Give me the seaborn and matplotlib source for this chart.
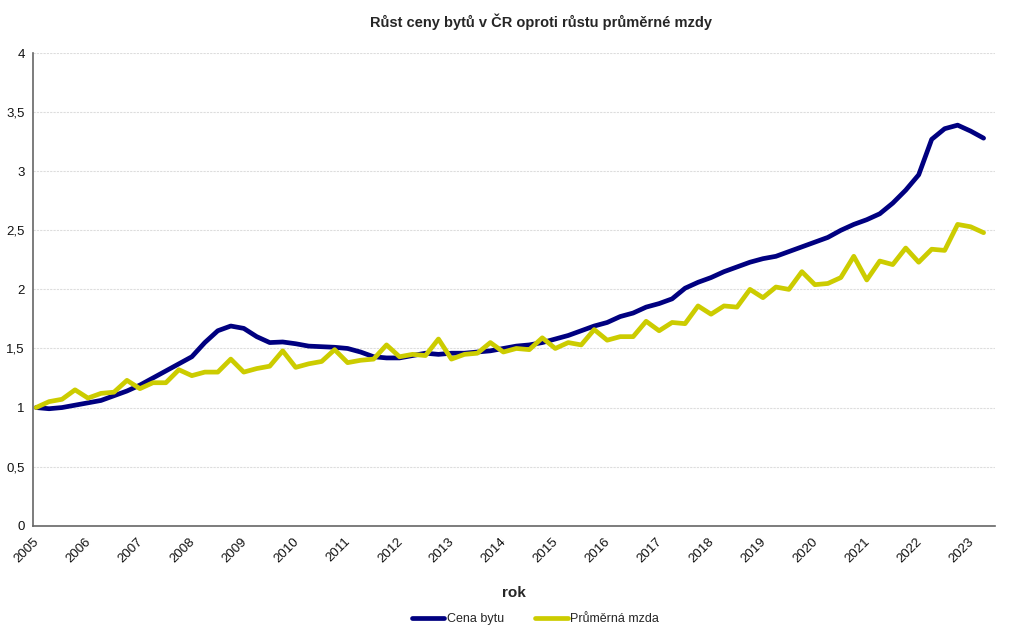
import pandas as pd
import numpy as np
import matplotlib
matplotlib.use("Agg")
import matplotlib.pyplot as plt
import seaborn as sns
from matplotlib.lines import Line2D

# quarterly index, 2005 Q1 = 1
cena_bytu = [
    1.00, 0.99, 1.00, 1.02, 1.04, 1.06, 1.10, 1.14,   # 2005-2006
    1.19, 1.25, 1.31, 1.37, 1.43, 1.55, 1.65, 1.69,   # 2007-2008
    1.67, 1.60, 1.55, 1.555, 1.54, 1.52, 1.515, 1.51,  # 2009-2010
    1.50, 1.47, 1.43, 1.42, 1.42, 1.44, 1.46, 1.45,   # 2011-2012
    1.46, 1.46, 1.47, 1.48, 1.50, 1.52, 1.53, 1.55,   # 2013-2014
    1.58, 1.61, 1.65, 1.69, 1.72, 1.77, 1.80, 1.85,   # 2015-2016
    1.88, 1.92, 2.01, 2.06, 2.10, 2.15, 2.19, 2.23,   # 2017-2018
    2.26, 2.28, 2.32, 2.36, 2.40, 2.44, 2.50, 2.55,   # 2019-2020
    2.59, 2.64, 2.73, 2.84, 2.97, 3.27, 3.36, 3.39,   # 2021-2022
    3.34, 3.28,                                       # 2023
]
prumerna_mzda = [
    1.00, 1.05, 1.07, 1.15, 1.08, 1.12, 1.13, 1.23,
    1.16, 1.21, 1.21, 1.32, 1.27, 1.30, 1.30, 1.41,
    1.30, 1.33, 1.35, 1.48, 1.34, 1.37, 1.39, 1.49,
    1.38, 1.40, 1.41, 1.53, 1.43, 1.45, 1.44, 1.58,
    1.41, 1.45, 1.46, 1.55, 1.47, 1.50, 1.49, 1.59,
    1.50, 1.55, 1.53, 1.66, 1.57, 1.60, 1.60, 1.73,
    1.65, 1.72, 1.71, 1.86, 1.79, 1.86, 1.85, 2.00,
    1.93, 2.02, 2.00, 2.15, 2.04, 2.05, 2.10, 2.28,
    2.08, 2.24, 2.21, 2.35, 2.23, 2.34, 2.33, 2.55,
    2.53, 2.48,
]
years = list(range(2005, 2024))
series_names = ["Cena bytu", "Průměrná mzda"]
colors = ["#000080", "#CCCC00"]

n = len(cena_bytu)
cas = [2005 + i / 4 + 0.06 for i in range(n)]

df = pd.DataFrame({
    "cas": cas * 2,
    "hodnota": cena_bytu + prumerna_mzda,
    "rada": [series_names[0]] * n + [series_names[1]] * n,
})

sns.set_theme(style="white")
plt.rcParams["font.family"] = ["Liberation Sans", "DejaVu Sans"]

fig = plt.figure(figsize=(10.24, 6.32), dpi=100)
ax = fig.add_axes([0.0322, 0.1682, 0.9395, 0.7478])

sns.lineplot(data=df, x="cas", y="hodnota", hue="rada", palette=colors,
             linewidth=3.4, legend=False, ax=ax, solid_capstyle="round",
             solid_joinstyle="round")

ax.set_xlim(2005, 2023.53)
ax.set_ylim(0, 4)
yt = np.arange(0, 4.01, 0.5)
ax.set_yticks(yt)
ax.set_yticklabels([("%g" % v).replace(".", ",") for v in yt], fontsize=9.5, color="#111111")
ax.set_xticks(years)
ax.set_xticklabels([str(y) for y in years], rotation=45, ha="right",
                   rotation_mode="anchor", fontsize=9.5, color="#111111")
ax.tick_params(axis="both", direction="out", length=4, width=0.8, color="#555555")
ax.tick_params(axis="x", pad=3)
ax.tick_params(axis="y", pad=2)

ax.grid(axis="y", color="#dddddd", linestyle=(0, (2, 1)), linewidth=0.8)
ax.set_axisbelow(True)
for s in ["top", "right"]:
    ax.spines[s].set_visible(False)
for s in ["left", "bottom"]:
    ax.spines[s].set_color("#666666")
    ax.spines[s].set_linewidth(1.2)

ax.set_xlabel("rok", fontsize=11, fontweight="bold", labelpad=15)
ax.set_ylabel("")

fig.text(0.528, 0.965, "Růst ceny bytů v ČR oproti růstu průměrné mzdy",
         ha="center", va="center", fontsize=10.5, fontweight="bold")

handles = [Line2D([0], [0], color=c, lw=3.4) for c in colors]
fig.legend(handles, series_names, loc="center", bbox_to_anchor=(0.523, 0.02),
           ncol=2, frameon=False, fontsize=9, handlelength=2.6,
           handletextpad=0.2, columnspacing=2.5)

fig.savefig("out.png", dpi=100)
